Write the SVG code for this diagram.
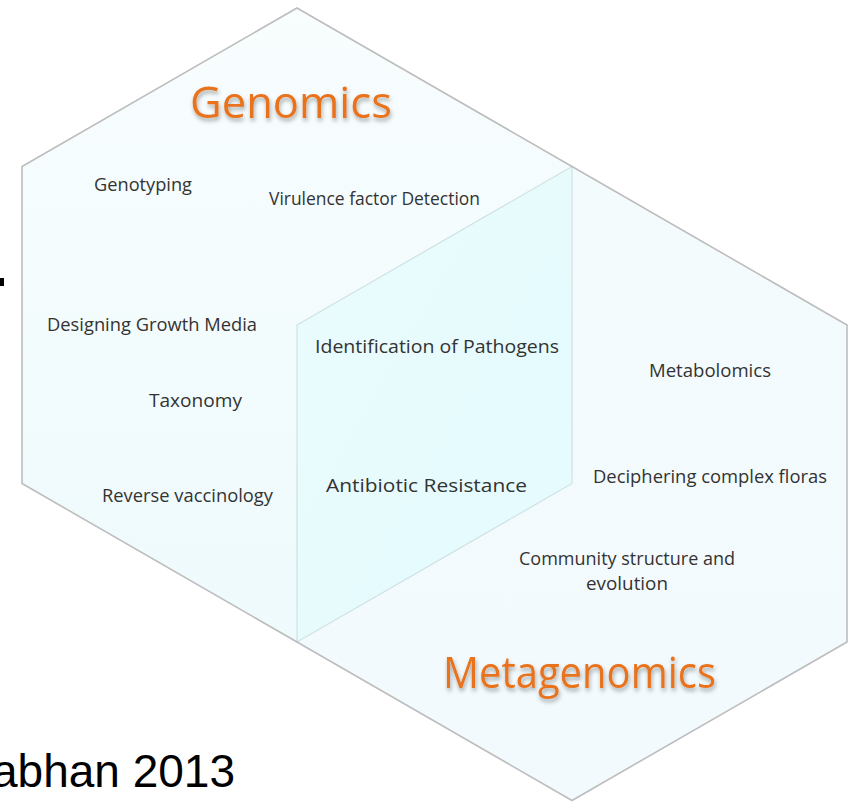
<svg xmlns="http://www.w3.org/2000/svg" width="853" height="802" viewBox="0 0 853 802">
<style>
.t{font-family:"Open Sans","Noto Sans",sans-serif;font-size:19px;fill:#333333}
.h{font-family:"Open Sans","Noto Sans",sans-serif;font-size:43px;fill:#e8731f;filter:url(#sh)}
.outer{stroke:#bdbdbd;stroke-width:1.6;fill:none}
.inner{stroke:#cfe2e4;stroke-width:1.2}
.cite{font-family:"Liberation Sans",Arial,sans-serif;font-size:46px;fill:#000000}
</style>
<defs>
<filter id="sh" x="-10%" y="-20%" width="120%" height="160%">
<feDropShadow dx="1" dy="3" stdDeviation="2" flood-color="#000000" flood-opacity="0.35"/>
</filter>
<linearGradient id="gG" x1="0" y1="0" x2="0" y2="1">
<stop offset="0" stop-color="#f8fdfe"/>
<stop offset="1" stop-color="#eefafc"/>
</linearGradient>
<linearGradient id="gM" x1="0" y1="0" x2="0" y2="1">
<stop offset="0" stop-color="#f4fbfd"/>
<stop offset="1" stop-color="#f2fafd"/>
</linearGradient>
<linearGradient id="gO" x1="0" y1="0" x2="1" y2="1">
<stop offset="0" stop-color="#eafbfd"/>
<stop offset="1" stop-color="#e4fbfd"/>
</linearGradient>
</defs>
<rect x="0" y="0" width="853" height="802" fill="#ffffff"/>
<g id="genomics">
<polygon points="297,8 572,166.5 572,483.5 297,642 22,483.5 22,166.5" fill="url(#gG)"/>
</g>
<g id="metagenomics">
<polygon points="572,166.5 847,325 847,642 572,800.5 297,642 297,325" fill="url(#gM)"/>
</g>
<g id="overlap">
<polygon class="inner" points="297,325 572,166.5 572,483.5 297,642" fill="url(#gO)"/>
</g>
<g id="outline">
<polygon class="outer" points="297,8 572,166.5 847,325 847,642 572,800.5 297,642 22,483.5 22,166.5"/>
</g>
<g id="titles">
<text class="h" x="190" y="118" textLength="202" lengthAdjust="spacingAndGlyphs">Genomics</text>
<text class="h" x="443" y="688" textLength="273" lengthAdjust="spacingAndGlyphs">Metagenomics</text>
</g>
<g id="labels">
<text class="t" x="94" y="191" textLength="98" lengthAdjust="spacingAndGlyphs">Genotyping</text>
<text class="t" x="269" y="205" textLength="211" lengthAdjust="spacingAndGlyphs">Virulence factor Detection</text>
<text class="t" x="47" y="331" textLength="210" lengthAdjust="spacingAndGlyphs">Designing Growth Media</text>
<text class="t" x="315" y="353" textLength="244" lengthAdjust="spacingAndGlyphs">Identification of Pathogens</text>
<text class="t" x="149" y="407" textLength="93" lengthAdjust="spacingAndGlyphs">Taxonomy</text>
<text class="t" x="649" y="377" textLength="122" lengthAdjust="spacingAndGlyphs">Metabolomics</text>
<text class="t" x="102" y="502" textLength="171" lengthAdjust="spacingAndGlyphs">Reverse vaccinology</text>
<text class="t" x="326" y="492" textLength="201" lengthAdjust="spacingAndGlyphs">Antibiotic Resistance</text>
<text class="t" x="593" y="483" textLength="234" lengthAdjust="spacingAndGlyphs">Deciphering complex floras</text>
<text class="t" x="519" y="565" textLength="216" lengthAdjust="spacingAndGlyphs">Community structure and</text>
<text class="t" x="586" y="590" textLength="82" lengthAdjust="spacingAndGlyphs">evolution</text>
</g>
<rect x="0" y="278" width="4" height="8" fill="#000000"/>
<text class="cite" x="-8" y="787">abhan 2013</text>
</svg>
